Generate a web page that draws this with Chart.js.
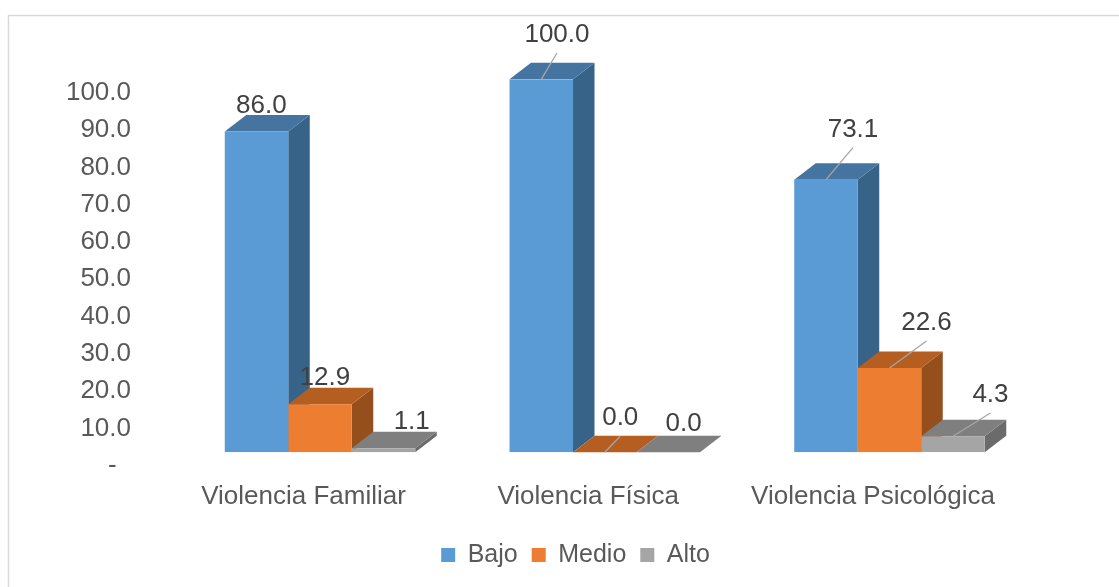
<!DOCTYPE html>
<html><head><meta charset="utf-8">
<script src="https://cdn.jsdelivr.net/npm/chart.js@4.4.1/dist/chart.umd.min.js"></script>
<style>html,body{margin:0;padding:0;background:#fff;overflow:hidden}canvas{display:block}</style>
</head><body>
<canvas id="c" width="1119" height="587"></canvas>
<script>
// ---- data ----
const categories = ['Violencia Familiar', 'Violencia Física', 'Violencia Psicológica'];
const seriesNames = ['Bajo', 'Medio', 'Alto'];
const bajo  = [86.0, 100.0, 73.1];
const medio = [12.9, 0.0, 22.6];
const alto  = [1.1, 0.0, 4.3];
const yTickLabels = ['-', '10.0', '20.0', '30.0', '40.0', '50.0', '60.0', '70.0', '80.0', '90.0', '100.0'];

// ---- styling ----
const frontColors = ['#5B9BD5', '#ED7D31', '#A5A5A5'];
const topColors   = ['#4674A1', '#B55E22', '#7F7F7F'];
const sideColors  = ['#386389', '#954F1C', '#6B6B6B'];
const DEPTH_X = 21.5, DEPTH_Y = 16.5;
// manual data-label offsets (per series, per category) relative to bar's top-front centre
const labelDX = [[4.8, 15.7, 27], [4.8, 15.5, 37], [28.2, 15.3, 37.5]];
const labelDY = [[-25.5, -44.3, -50], [-25.9, -34, -45], [-26.2, -28.5, -41.3]];
const FONT = '"Liberation Sans", Arial, sans-serif';
const LEGEND_SHIFT = 54.6;

const frame = {
  id: 'frame',
  beforeDraw(chart) {
    const ctx = chart.ctx;
    ctx.save();
    ctx.fillStyle = '#fff';
    ctx.fillRect(0, 0, chart.width, chart.height);
    ctx.strokeStyle = '#D9D9D9';
    ctx.lineWidth = 1.5;
    ctx.strokeRect(8.5, 15.5, chart.width + 20, chart.height + 20);
    ctx.restore();
  },
  afterLayout(chart) {
    const lg = chart.legend;
    if (lg) { lg.left += LEGEND_SHIFT; lg.right += LEGEND_SHIFT; }
  }
};

const bars3d = {
  id: 'bars3d',
  beforeDatasetsDraw(chart) {
    const ctx = chart.ctx;
    ctx.save();
    chart.data.datasets.forEach((ds, i) => {
      const meta = chart.getDatasetMeta(i);
      meta.data.forEach(bar => {
        const {x, y, base, width} = bar.getProps(['x', 'y', 'base', 'width'], true);
        const l = x - width / 2, r = x + width / 2;
        ctx.fillStyle = sideColors[i];
        ctx.beginPath();
        ctx.moveTo(r, y); ctx.lineTo(r + DEPTH_X, y - DEPTH_Y);
        ctx.lineTo(r + DEPTH_X, base - DEPTH_Y); ctx.lineTo(r, base);
        ctx.closePath(); ctx.fill();
        ctx.fillStyle = topColors[i];
        ctx.beginPath();
        ctx.moveTo(l, y); ctx.lineTo(l + DEPTH_X, y - DEPTH_Y);
        ctx.lineTo(r + DEPTH_X, y - DEPTH_Y); ctx.lineTo(r, y);
        ctx.closePath(); ctx.fill();
      });
    });
    ctx.restore();
  },
  afterDatasetsDraw(chart) {
    const ctx = chart.ctx;
    ctx.save();
    ctx.font = '26px ' + FONT;
    ctx.textAlign = 'center';
    ctx.textBaseline = 'middle';
    chart.data.datasets.forEach((ds, i) => {
      const meta = chart.getDatasetMeta(i);
      meta.data.forEach((bar, j) => {
        const {x, y} = bar.getProps(['x', 'y'], true);
        const lx = x + labelDX[i][j], ly = y + labelDY[i][j];
        if (-labelDY[i][j] > 32) {
          ctx.strokeStyle = '#A6A6A6';
          ctx.lineWidth = 1.3;
          ctx.beginPath();
          ctx.moveTo(lx, ly + 18);
          ctx.lineTo(x, y);
          ctx.stroke();
        }
        ctx.fillStyle = '#404040';
        ctx.fillText(ds.data[j].toFixed(1), lx, ly);
      });
    });
    ctx.restore();
  }
};

new Chart(document.getElementById('c'), {
  type: 'bar',
  data: {
    labels: categories,
    datasets: [
      {label: seriesNames[0], data: bajo,  backgroundColor: frontColors[0], borderWidth: 0},
      {label: seriesNames[1], data: medio, backgroundColor: frontColors[1], borderWidth: 0},
      {label: seriesNames[2], data: alto,  backgroundColor: frontColors[2], borderWidth: 0}
    ]
  },
  options: {
    responsive: false,
    animation: false,
    events: [],
    categoryPercentage: 0.669,
    barPercentage: 1.0,
    layout: {padding: {left: 10, right: 87.15, top: 79.3, bottom: 9.5}},
    scales: {
      x: {
        grid: {display: false, drawTicks: false},
        border: {display: false},
        ticks: {
          font: {family: FONT, size: 26}, color: '#595959',
          padding: 29, labelOffset: -16.5, maxRotation: 0, autoSkip: false
        },
        afterFit(s) { s.height = 76.2; }
      },
      y: {
        min: 0, max: 100,
        grid: {display: false, drawTicks: false},
        border: {display: false},
        ticks: {
          stepSize: 10,
          font: {family: FONT, size: 26}, color: '#595959',
          padding: 46.65, labelOffset: 13.5,
          callback: (v) => { const t = yTickLabels[Math.round(v / 10)]; return t === '-' ? '-  ' : t; }
        },
        afterFit(s) { s.width = 167.65; }
      }
    },
    plugins: {
      tooltip: {enabled: false},
      legend: {
        position: 'bottom',
        labels: {
          font: {family: FONT, size: 25}, color: '#595959',
          boxWidth: 14, boxHeight: 14, padding: 14
        }
      }
    }
  },
  plugins: [frame, bars3d]
});
</script>
</body></html>
